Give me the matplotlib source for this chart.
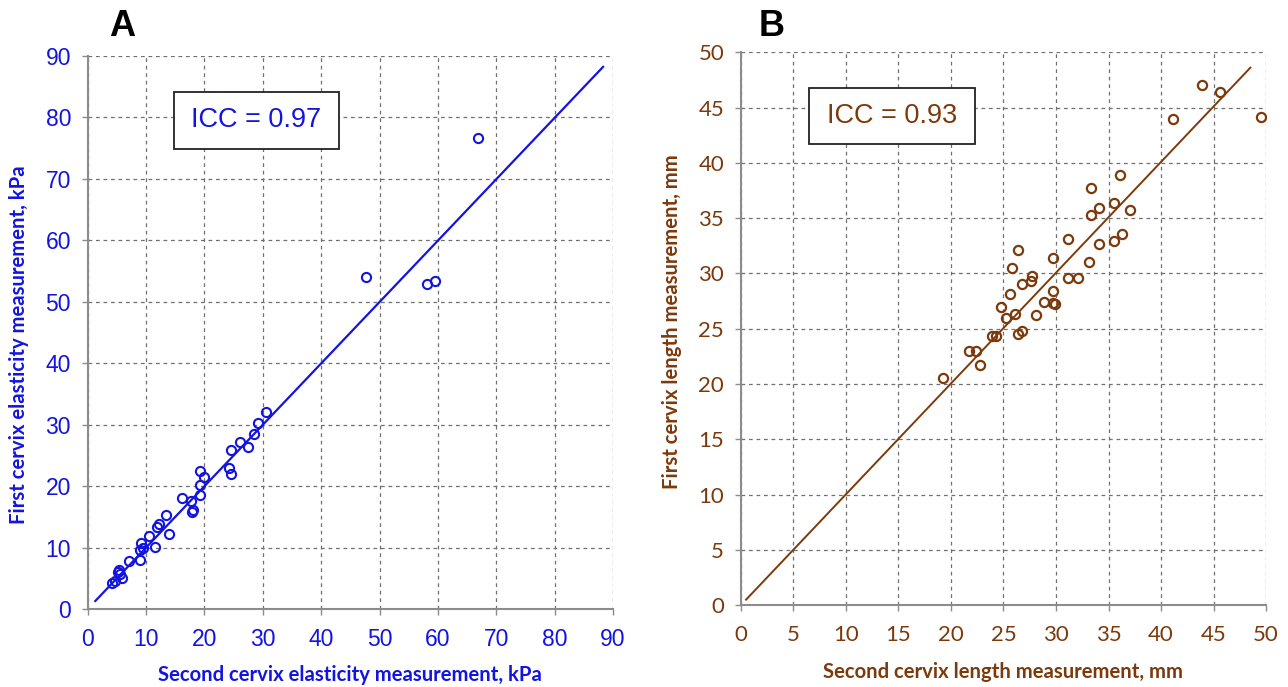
import numpy as np
import matplotlib.pyplot as plt
from matplotlib.patches import Rectangle

# Panel A: cervix elasticity (kPa)
elast_second = [30.5, 29.1, 28.5, 26.1, 27.4, 24.5, 24.2, 24.5, 19.3, 20.0,
                19.2, 19.3, 17.7, 16.1, 17.8, 18.0, 13.5, 12.2, 11.8, 13.9,
                10.5, 9.1, 9.5, 11.5, 8.9, 7.0, 5.4, 5.5, 5.9, 4.1,
                4.6, 5.2, 9.0, 47.7, 58.1, 59.5, 66.9]
elast_first = [32.0, 30.3, 28.5, 27.2, 26.4, 25.9, 22.9, 22.0, 22.4, 21.4,
               20.2, 18.5, 17.6, 18.0, 15.8, 16.1, 15.3, 13.8, 13.3, 12.2,
               11.8, 10.7, 10.0, 10.1, 8.0, 7.8, 6.4, 5.7, 5.1, 4.3,
               4.5, 6.0, 9.6, 54.0, 52.9, 53.4, 76.7]
elast_fit_x = [1.3, 88.3]
elast_fit_y = [1.3, 88.2]

# Panel B: cervix length (mm)
length_second = [19.2, 21.7, 22.4, 22.8, 23.9, 24.3, 24.8, 25.2, 26.1, 25.6,
                 25.8, 26.4, 26.8, 27.6, 27.7, 26.4, 26.8, 28.1, 28.9, 29.7,
                 29.7, 29.7, 29.9, 31.1, 32.1, 31.1, 33.1, 33.3, 33.3, 34.1,
                 34.1, 35.5, 35.5, 36.1, 36.3, 37.0, 41.1, 43.9, 45.6, 49.5]
length_first = [20.5, 23.0, 23.0, 21.7, 24.3, 24.3, 27.0, 26.0, 26.3, 28.1,
                30.5, 32.1, 29.0, 29.3, 29.8, 24.5, 24.8, 26.2, 27.4, 31.4,
                28.4, 27.3, 27.2, 29.6, 29.6, 33.1, 31.0, 37.7, 35.3, 35.9,
                32.7, 36.4, 32.9, 38.9, 33.6, 35.7, 44.0, 47.0, 46.4, 44.1]
length_fit_x = [0.5, 48.5]
length_fit_y = [0.5, 48.6]

blue = '#1414e0'
brown = '#7c3a0c'
grey = '#8c8c8c'

tick_font = ['Liberation Sans Narrow', 'Liberation Sans', 'DejaVu Sans']
label_font = ['Lato', 'DejaVu Sans']

fig = plt.figure(figsize=(12.88, 6.87), dpi=100)
W, H = 1288, 687


def make_axes(x0, x1, y_bottom, y_top):
    return fig.add_axes([x0 / W, 1 - y_bottom / H, (x1 - x0) / W, (y_bottom - y_top) / H])


def style_axes(ax, color, xmax, ymax, step, tfont, tsize):
    ax.set_xlim(0, xmax)
    ax.set_ylim(0, ymax)
    ax.set_xticks(np.arange(0, xmax + 1, step))
    ax.set_yticks(np.arange(0, ymax + 1, step))
    for s in ['top', 'right']:
        ax.spines[s].set_visible(False)
    for s in ['left', 'bottom']:
        ax.spines[s].set_color(grey)
        ax.spines[s].set_linewidth(1.5)
    ax.grid(True, color='#707070', linestyle=(0, (3, 3)), linewidth=0.9)
    ax.set_axisbelow(True)
    ax.tick_params(direction='out', length=4, width=1, color=grey,
                   labelcolor=color, labelsize=tsize)
    ax.tick_params(axis='x', pad=10)
    ax.tick_params(axis='y', pad=8)
    for lab in ax.get_xticklabels() + ax.get_yticklabels():
        lab.set_family(tfont)


def icc_box(ax, x0, x1, y0, y1, text, color):
    ax.add_patch(Rectangle((x0, y0), x1 - x0, y1 - y0, transform=ax.transAxes,
                           facecolor='white', edgecolor='#222222', linewidth=1.3,
                           zorder=5))
    ax.text((x0 + x1) / 2, (y0 + y1) / 2, text, transform=ax.transAxes,
            ha='center', va='center', color=color, fontsize=19.5,
            family=tick_font, zorder=6)


# ---- Panel A ----
axA = make_axes(87.7, 613.0, 609.0, 55.8)
style_axes(axA, blue, 90, 90, 10, tick_font, 16.5)
axA.plot(elast_fit_x, elast_fit_y, color=blue, linewidth=1.6, zorder=3)
axA.plot(elast_second, elast_first, linestyle='none', marker='o', markersize=6.6,
         markerfacecolor='none', markeredgecolor=blue, markeredgewidth=1.5, zorder=4)
axA.set_xlabel('Second cervix elasticity measurement, kPa', color=blue,
               fontsize=14.6, fontweight='bold', family=label_font)
axA.set_ylabel('First cervix elasticity measurement, kPa', color=blue,
               fontsize=14.6, fontweight='bold', family=label_font)
axA.xaxis.label.set_va('center')
axA.yaxis.label.set_va('center')
axA.xaxis.set_label_coords(0.5, -0.119)
axA.yaxis.set_label_coords(-0.131, 0.477)
icc_box(axA, 0.164, 0.478, 0.832, 0.935, 'ICC = 0.97', blue)

# ---- Panel B ----
axB = make_axes(740.8, 1266.1, 605.2, 52.2)
style_axes(axB, brown, 50, 50, 5, label_font, 16)
axB.plot(length_fit_x, length_fit_y, color=brown, linewidth=1.4, zorder=3)
axB.plot(length_second, length_first, linestyle='none', marker='o', markersize=6.6,
         markerfacecolor='none', markeredgecolor=brown, markeredgewidth=1.6, zorder=4)
axB.set_xlabel('Second cervix length measurement, mm', color=brown,
               fontsize=14.6, fontweight='bold', family=label_font)
axB.set_ylabel('First cervix length measurement, mm', color=brown,
               fontsize=14.6, fontweight='bold', family=label_font)
axB.xaxis.label.set_va('center')
axB.yaxis.label.set_va('center')
axB.xaxis.set_label_coords(0.499, -0.120)
axB.yaxis.set_label_coords(-0.131, 0.512)
icc_box(axB, 0.129, 0.446, 0.834, 0.935, 'ICC = 0.93', brown)

# panel letters
fig.text(122 / W, 1 - 26 / H, 'A', ha='center', va='center', fontsize=26,
         fontweight='bold', family=['Liberation Sans', 'DejaVu Sans'])
fig.text(772 / W, 1 - 26 / H, 'B', ha='center', va='center', fontsize=26,
         fontweight='bold', family=['Liberation Sans', 'DejaVu Sans'])

fig.savefig('out.png', dpi=100, facecolor='white')
